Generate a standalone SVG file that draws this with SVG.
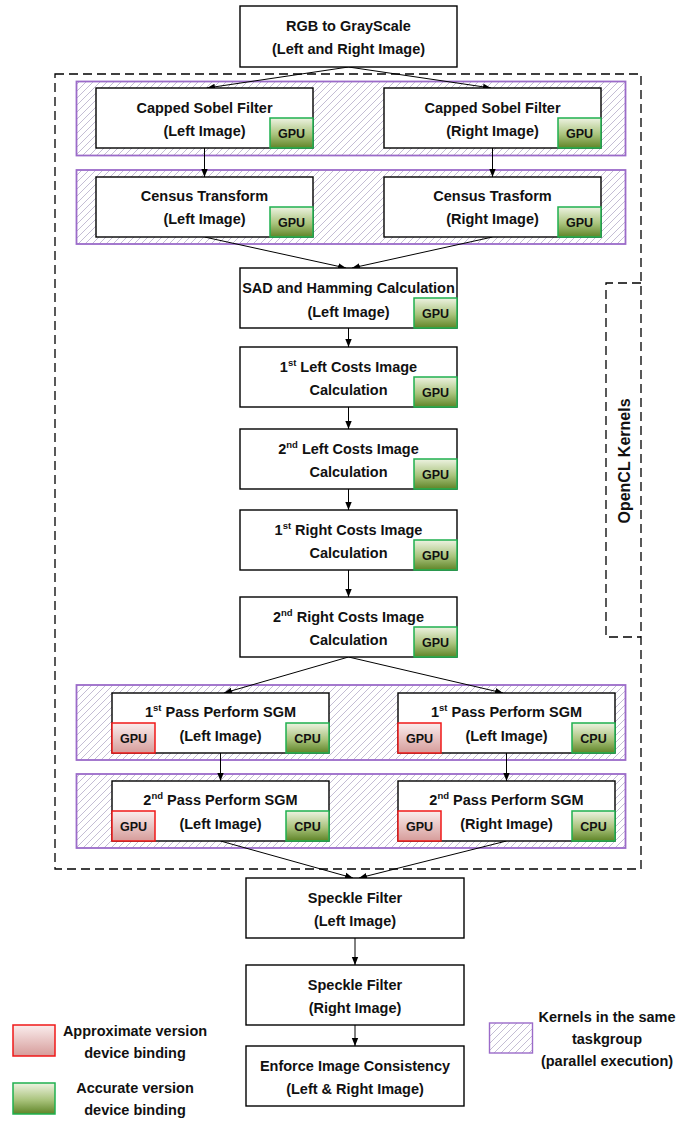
<svg xmlns="http://www.w3.org/2000/svg" width="678" height="1122" viewBox="0 0 678 1122">
  <style>
    .box { fill: #fff; stroke: #000; stroke-width: 1.4; }
    .grp { fill: url(#hatch); stroke: #9b6bc9; stroke-width: 1.8; }
    .acc { fill: url(#gradGreen); stroke: #1fb04f; stroke-width: 1.5; }
    .apx { fill: url(#gradRed); stroke: #f01818; stroke-width: 1.5; }
    .t { font-family: "Liberation Sans", Arial, sans-serif; font-weight: bold; font-size: 14.5px; fill: #111; text-anchor: middle; }
    .b { font-family: "Liberation Sans", Arial, sans-serif; font-weight: bold; font-size: 12.5px; fill: #111; text-anchor: middle; }
    .sup { font-size: 9.5px; }
    .edge { fill: none; stroke: #000; stroke-width: 1; marker-end: url(#arrow); }
    .dash { fill: none; stroke: #000; stroke-width: 1.3; stroke-dasharray: 9 5; }
  </style>
  <defs>
    <pattern id="hatch" patternUnits="userSpaceOnUse" width="7" height="7">
      <rect width="7" height="7" fill="#fff"/>
      <path d="M-1,1 L1,-1 M0,7 L7,0 M6,8 L8,6" stroke="#bdb5cf" stroke-width="0.9"/>
    </pattern>
    <linearGradient id="gradGreen" x1="0" y1="0" x2="0" y2="1">
      <stop offset="0" stop-color="#eef3e2"/>
      <stop offset="0.55" stop-color="#a9c37c"/>
      <stop offset="1" stop-color="#5f8427"/>
    </linearGradient>
    <linearGradient id="gradRed" x1="0" y1="0" x2="0" y2="1">
      <stop offset="0" stop-color="#faeded"/>
      <stop offset="1" stop-color="#d69c9a"/>
    </linearGradient>
    <marker id="arrow" markerUnits="userSpaceOnUse" markerWidth="9" markerHeight="8" refX="8" refY="4" orient="auto">
      <path d="M0,0.8 L8,4 L0,7.2 Z" fill="#000"/>
    </marker>
  </defs>

  <!-- OpenCL kernel region -->
  <g id="opencl-region">
    <rect class="dash" x="55" y="74" width="586" height="795"/>
    <path class="dash" d="M641,283 H606 V637 H641"/>
    <text class="t" transform="translate(629.5,461) rotate(-90)" style="font-size:16px">OpenCL Kernels</text>
  </g>

  <!-- task groups (parallel execution) -->
  <g id="taskgroups">
    <rect class="grp" x="76.5" y="81.5" width="549" height="74"/>
    <rect class="grp" x="76.5" y="170" width="549" height="74"/>
    <rect class="grp" x="76.5" y="685" width="549" height="75"/>
    <rect class="grp" x="76.5" y="774" width="549" height="74"/>
  </g>

  <!-- connectors -->
  <g id="connectors">
    <path class="edge" d="M348.5,67 L207,88"/>
    <path class="edge" d="M348.5,67 L491,88"/>
    <path class="edge" d="M204.5,148 V177"/>
    <path class="edge" d="M492.5,148 V177"/>
    <path class="edge" d="M204.5,237 L346,268"/>
    <path class="edge" d="M492.5,237 L352,268"/>
    <path class="edge" d="M348.5,328 V347"/>
    <path class="edge" d="M348.5,407 V429"/>
    <path class="edge" d="M348.5,489 V510"/>
    <path class="edge" d="M348.5,570 V597"/>
    <path class="edge" d="M348.5,657 L224,693"/>
    <path class="edge" d="M348.5,657 L503,693"/>
    <path class="edge" d="M220.5,753 V781"/>
    <path class="edge" d="M506.5,753 V781"/>
    <path class="edge" d="M220.5,841 L353,878"/>
    <path class="edge" d="M506.5,841 L359,878"/>
    <path class="edge" d="M355,938 V965"/>
    <path class="edge" d="M355,1025 V1046"/>
  </g>

  <g id="rgb2gray">
    <rect class="box" x="240" y="6" width="217" height="61"/>
    <text class="t" x="348.5" y="31">RGB to GrayScale</text>
    <text class="t" x="348.5" y="54">(Left and Right Image)</text>
  </g>

  <g id="sobel-left">
    <rect class="box" x="96" y="88" width="217" height="60"/>
    <text class="t" x="204.5" y="113">Capped Sobel Filter</text>
    <text class="t" x="204.5" y="136">(Left Image)</text>
    <rect class="acc" x="270" y="118" width="43" height="30"/>
    <text class="b" x="291.5" y="137.5">GPU</text>
  </g>
  <g id="sobel-right">
    <rect class="box" x="384" y="88" width="217" height="60"/>
    <text class="t" x="492.5" y="113">Capped Sobel Filter</text>
    <text class="t" x="492.5" y="136">(Right Image)</text>
    <rect class="acc" x="558" y="118" width="43" height="30"/>
    <text class="b" x="579.5" y="137.5">GPU</text>
  </g>

  <g id="census-left">
    <rect class="box" x="96" y="177" width="217" height="60"/>
    <text class="t" x="204.5" y="201">Census Transform</text>
    <text class="t" x="204.5" y="224">(Left Image)</text>
    <rect class="acc" x="270" y="207" width="43" height="30"/>
    <text class="b" x="291.5" y="226.5">GPU</text>
  </g>
  <g id="census-right">
    <rect class="box" x="384" y="177" width="217" height="60"/>
    <text class="t" x="492.5" y="201">Census Trasform</text>
    <text class="t" x="492.5" y="224">(Right Image)</text>
    <rect class="acc" x="558" y="207" width="43" height="30"/>
    <text class="b" x="579.5" y="226.5">GPU</text>
  </g>

  <g id="sad-hamming">
    <rect class="box" x="240" y="268" width="217" height="60"/>
    <text class="t" x="348.5" y="293">SAD and Hamming Calculation</text>
    <text class="t" x="348.5" y="317">(Left Image)</text>
    <rect class="acc" x="414" y="298" width="43" height="30"/>
    <text class="b" x="435.5" y="317.5">GPU</text>
  </g>

  <g id="left-costs-1">
    <rect class="box" x="240" y="347" width="217" height="60"/>
    <text class="t" x="348.5" y="372">1<tspan class="sup" dy="-6">st</tspan><tspan dy="6"> Left Costs Image</tspan></text>
    <text class="t" x="348.5" y="395">Calculation</text>
    <rect class="acc" x="414" y="377" width="43" height="30"/>
    <text class="b" x="435.5" y="396.5">GPU</text>
  </g>

  <g id="left-costs-2">
    <rect class="box" x="240" y="429" width="217" height="60"/>
    <text class="t" x="348.5" y="454">2<tspan class="sup" dy="-6">nd</tspan><tspan dy="6"> Left Costs Image</tspan></text>
    <text class="t" x="348.5" y="477">Calculation</text>
    <rect class="acc" x="414" y="459" width="43" height="30"/>
    <text class="b" x="435.5" y="478.5">GPU</text>
  </g>

  <g id="right-costs-1">
    <rect class="box" x="240" y="510" width="217" height="60"/>
    <text class="t" x="348.5" y="535">1<tspan class="sup" dy="-6">st</tspan><tspan dy="6"> Right Costs Image</tspan></text>
    <text class="t" x="348.5" y="558">Calculation</text>
    <rect class="acc" x="414" y="540" width="43" height="30"/>
    <text class="b" x="435.5" y="559.5">GPU</text>
  </g>

  <g id="right-costs-2">
    <rect class="box" x="240" y="597" width="217" height="60"/>
    <text class="t" x="348.5" y="622">2<tspan class="sup" dy="-6">nd</tspan><tspan dy="6"> Right Costs Image</tspan></text>
    <text class="t" x="348.5" y="645">Calculation</text>
    <rect class="acc" x="414" y="627" width="43" height="30"/>
    <text class="b" x="435.5" y="646.5">GPU</text>
  </g>

  <g id="sgm-pass1-left">
    <rect class="box" x="112" y="693" width="217" height="60"/>
    <text class="t" x="220.5" y="717">1<tspan class="sup" dy="-6">st</tspan><tspan dy="6"> Pass Perform SGM</tspan></text>
    <text class="t" x="220.5" y="741">(Left Image)</text>
    <rect class="apx" x="112" y="723" width="43" height="30"/>
    <text class="b" x="133.5" y="742.5">GPU</text>
    <rect class="acc" x="286" y="723" width="43" height="30"/>
    <text class="b" x="307.5" y="742.5">CPU</text>
  </g>
  <g id="sgm-pass1-right">
    <rect class="box" x="398" y="693" width="217" height="60"/>
    <text class="t" x="506.5" y="717">1<tspan class="sup" dy="-6">st</tspan><tspan dy="6"> Pass Perform SGM</tspan></text>
    <text class="t" x="506.5" y="741">(Left Image)</text>
    <rect class="apx" x="398" y="723" width="43" height="30"/>
    <text class="b" x="419.5" y="742.5">GPU</text>
    <rect class="acc" x="572" y="723" width="43" height="30"/>
    <text class="b" x="593.5" y="742.5">CPU</text>
  </g>

  <g id="sgm-pass2-left">
    <rect class="box" x="112" y="781" width="217" height="60"/>
    <text class="t" x="220.5" y="805">2<tspan class="sup" dy="-6">nd</tspan><tspan dy="6"> Pass Perform SGM</tspan></text>
    <text class="t" x="220.5" y="829">(Left Image)</text>
    <rect class="apx" x="112" y="811" width="43" height="30"/>
    <text class="b" x="133.5" y="830.5">GPU</text>
    <rect class="acc" x="286" y="811" width="43" height="30"/>
    <text class="b" x="307.5" y="830.5">CPU</text>
  </g>
  <g id="sgm-pass2-right">
    <rect class="box" x="398" y="781" width="217" height="60"/>
    <text class="t" x="506.5" y="805">2<tspan class="sup" dy="-6">nd</tspan><tspan dy="6"> Pass Perform SGM</tspan></text>
    <text class="t" x="506.5" y="829">(Right Image)</text>
    <rect class="apx" x="398" y="811" width="43" height="30"/>
    <text class="b" x="419.5" y="830.5">GPU</text>
    <rect class="acc" x="572" y="811" width="43" height="30"/>
    <text class="b" x="593.5" y="830.5">CPU</text>
  </g>

  <g id="speckle-left">
    <rect class="box" x="246" y="878" width="218" height="60"/>
    <text class="t" x="355" y="903">Speckle Filter</text>
    <text class="t" x="355" y="926">(Left Image)</text>
  </g>
  <g id="speckle-right">
    <rect class="box" x="246" y="965" width="218" height="60"/>
    <text class="t" x="355" y="990">Speckle Filter</text>
    <text class="t" x="355" y="1013">(Right Image)</text>
  </g>
  <g id="consistency">
    <rect class="box" x="246" y="1046" width="218" height="60"/>
    <text class="t" x="355" y="1071">Enforce Image Consistency</text>
    <text class="t" x="355" y="1094">(Left &amp; Right Image)</text>
  </g>

  <!-- legend -->
  <g id="legend-approx">
    <rect class="apx" x="13" y="1025" width="42" height="31"/>
    <text class="t" x="135" y="1036">Approximate version</text>
    <text class="t" x="135" y="1058">device binding</text>
  </g>
  <g id="legend-accurate">
    <rect class="acc" x="13" y="1083" width="42" height="31"/>
    <text class="t" x="135" y="1093">Accurate version</text>
    <text class="t" x="135" y="1115">device binding</text>
  </g>
  <g id="legend-taskgroup">
    <rect class="grp" x="489.5" y="1023" width="43" height="30" style="stroke-width:1.4"/>
    <text class="t" x="607" y="1022">Kernels in the same</text>
    <text class="t" x="607" y="1044">taskgroup</text>
    <text class="t" x="607" y="1066">(parallel execution)</text>
  </g>
</svg>
